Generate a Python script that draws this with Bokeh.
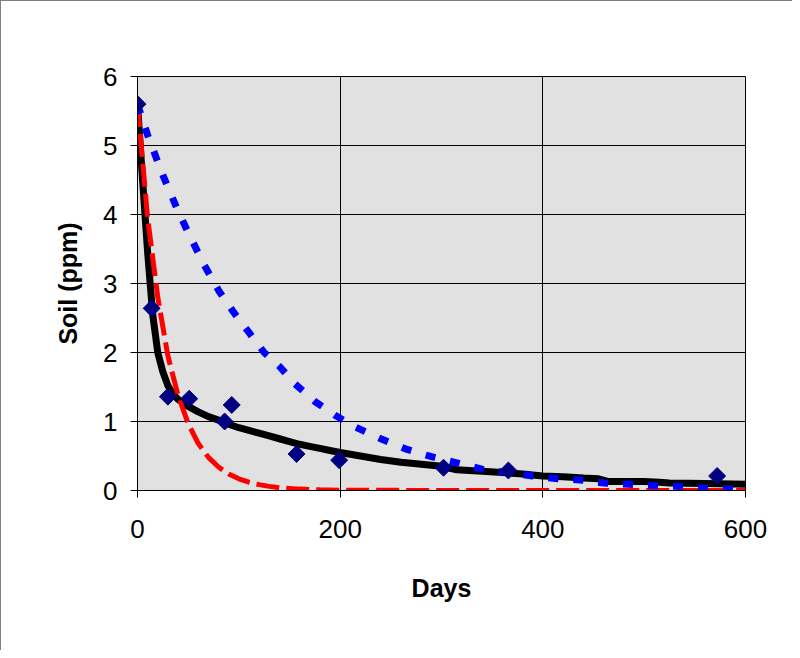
import math
from bokeh.plotting import figure
from bokeh.models import Range1d, FixedTicker
from bokeh.embed import file_html
from bokeh.resources import INLINE

# Observed data (diamonds)
obs_days = [0, 14, 30, 51, 86, 93, 157, 199, 302, 366, 572]
obs_soil = [5.6, 2.64, 1.36, 1.33, 1.0, 1.24, 0.53, 0.44, 0.33, 0.29, 0.21]

# Black fitted curve
fit_days = [0, 5, 10, 15, 20, 25, 30, 35, 40, 50, 60, 70, 80, 90, 100, 110, 120, 130,
            140, 150, 160, 170, 180, 190, 200, 220, 240, 260, 280, 300, 315, 340, 360,
            380, 400, 420, 440, 455, 465, 500, 515, 525, 560, 600]
fit_soil = [5.6, 4.5, 3.45, 2.55, 2.0, 1.72, 1.52, 1.4, 1.32, 1.22, 1.14, 1.07, 1.02,
            0.96, 0.91, 0.87, 0.83, 0.79, 0.75, 0.71, 0.67, 0.64, 0.61, 0.58, 0.55,
            0.5, 0.45, 0.41, 0.38, 0.35, 0.3, 0.28, 0.26, 0.24, 0.21, 0.2, 0.18, 0.17,
            0.13, 0.13, 0.12, 0.11, 0.1, 0.09]

# Red dashed curve
red_days = [0, 10, 20, 30, 40, 50, 60, 70, 80, 90, 100, 110, 120, 130, 140, 150, 160,
            180, 200, 300, 400, 500, 600]
red_soil = [5.6, 3.95, 2.8, 1.95, 1.38, 0.97, 0.68, 0.48, 0.34, 0.24, 0.17, 0.12, 0.085,
            0.06, 0.04, 0.03, 0.02, 0.01, 0.005, 0.0, 0.0, 0.0, 0.0]

# Blue dotted curve
blue_days = [0, 10, 25, 40, 50, 65, 80, 95, 110, 125, 140, 155, 175, 195, 215, 240, 265,
             290, 315, 340, 365, 390, 415, 440, 460, 485, 510, 535, 560, 590]
blue_soil = [5.6, 5.15, 4.57, 4.05, 3.74, 3.29, 2.9, 2.58, 2.29, 2.0, 1.8, 1.55, 1.29,
             1.09, 0.92, 0.75, 0.6, 0.49, 0.4, 0.31, 0.26, 0.21, 0.17, 0.15, 0.11, 0.09,
             0.07, 0.06, 0.03, 0.02]

x_ticks = [0, 200, 400, 600]
y_ticks = [0, 1, 2, 3, 4, 5, 6]

p = figure(width=792, height=650, output_backend="svg", toolbar_location=None,
           x_range=Range1d(0, 600), y_range=Range1d(0, 6),
           min_border_left=136, min_border_top=75, min_border_right=48,
           min_border_bottom=161)
p.styles = {"border-left": "1px solid #808080", "border-top": "1px solid #808080"}

p.background_fill_color = "#E1E1E1"
p.border_fill_color = "white"
p.outline_line_color = "black"
p.outline_line_width = 1

p.xgrid.grid_line_color = "black"
p.ygrid.grid_line_color = "black"
p.xgrid.grid_line_width = 1
p.ygrid.grid_line_width = 1

p.xaxis.ticker = FixedTicker(ticks=x_ticks)
p.yaxis.ticker = FixedTicker(ticks=y_ticks)
for ax in (p.xaxis[0], p.yaxis[0]):
    ax.axis_line_color = "black"
    ax.major_tick_line_color = "black"
    ax.major_tick_out = 7
    ax.major_tick_in = 0
    ax.minor_tick_line_color = None
    ax.major_label_text_font = "Liberation Sans"
    ax.major_label_text_font_size = "26px"
    ax.major_label_text_color = "black"
    ax.axis_label_text_font = "Liberation Sans"
    ax.axis_label_text_font_size = "25px"
    ax.axis_label_text_font_style = "bold"
    ax.axis_label_text_color = "black"

p.xaxis.axis_label = "Days"
p.yaxis.axis_label = "Soil (ppm)"
p.xaxis.major_label_standoff = 22
p.yaxis.major_label_standoff = 13
p.xaxis.axis_label_standoff = 33
p.yaxis.axis_label_standoff = 18

p.line(fit_days, fit_soil, line_color="black", line_width=7,
       line_cap="round", line_join="round")
p.line(red_days, red_soil, line_color="#FF0000", line_width=5, line_dash="23 7")
p.line(blue_days, blue_soil, line_color="#0000FF", line_width=7, line_dash="10 15")
p.scatter(obs_days, obs_soil, marker="square", size=12, angle=math.pi / 4,
          fill_color="#000080", line_color="#000080")

open("out.html", "w").write(file_html(p, INLINE))
